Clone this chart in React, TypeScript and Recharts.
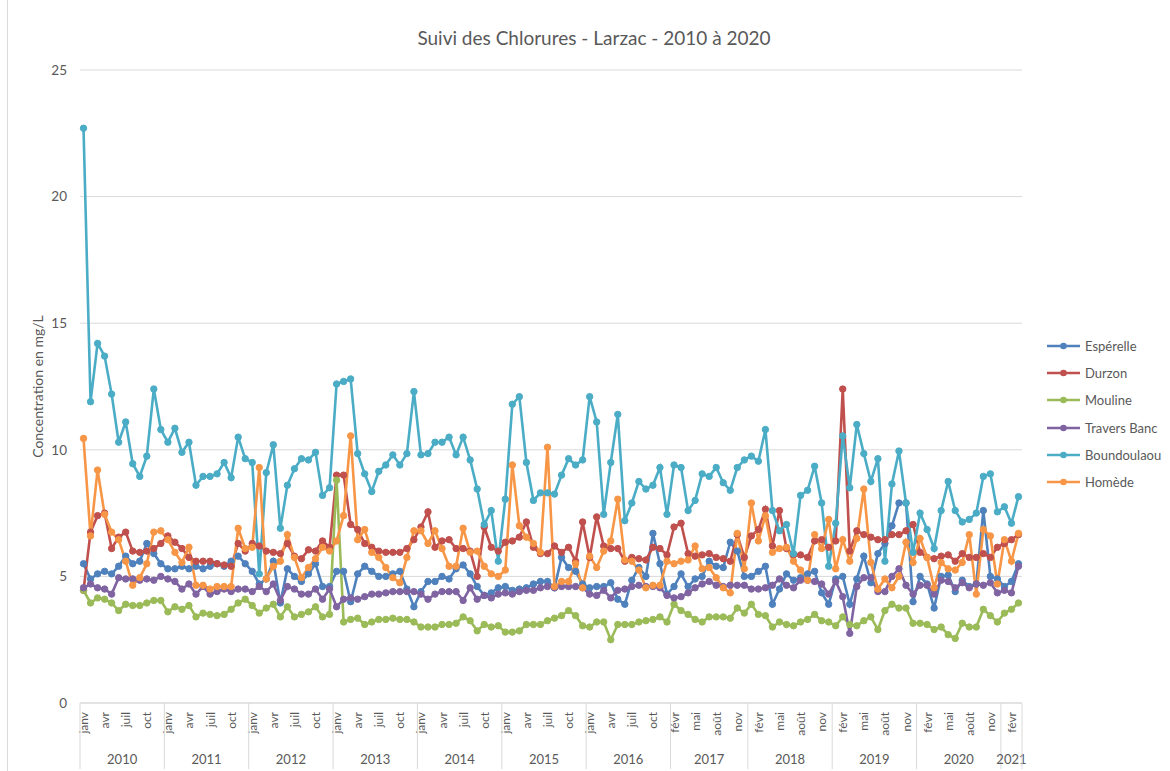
import { LineChart, Line, XAxis, YAxis, CartesianGrid, Legend } from 'recharts';

const MONTHS = ['janv', 'févr', 'mars', 'avr', 'mai', 'juin', 'juil', 'août', 'sept', 'oct', 'nov', 'déc'];

// [année, premier mois, dernier mois] (janvier 2017 absent)
const yearSpans: [number, number, number][] = [
  [2010, 0, 11], [2011, 0, 11], [2012, 0, 11], [2013, 0, 11], [2014, 0, 11], [2015, 0, 11],
  [2016, 0, 11], [2017, 1, 11], [2018, 0, 11], [2019, 0, 11], [2020, 0, 11], [2021, 0, 2],
];

const esperelle = [
  5.5, 4.9, 5.1, 5.2, 5.1, 5.4, 5.8, 5.5, 5.6, 6.3, 5.9, 5.5,
  5.3, 5.3, 5.4, 5.3, 5.4, 5.3, 5.4, 5.5, 5.4, 5.6, 5.8, 5.5,
  5.2, 4.7, 4.9, 5.6, 3.95, 5.3, 5.0, 4.8, 5.1, 5.5, 4.6, 4.6,
  5.2, 5.2, 4.0, 5.1, 5.4, 5.2, 5.0, 5.0, 5.1, 5.2, 4.5, 3.8,
  4.4, 4.8, 4.8, 5.0, 4.9, 5.3, 5.45, 5.1, 4.6, 4.25, 4.35, 4.55,
  4.6, 4.45, 4.5, 4.55, 4.7, 4.8, 4.8, 4.55, 5.75, 5.35, 5.2, 4.7,
  4.55, 4.6, 4.6, 4.75, 4.1, 3.9, 4.85, 5.35, 5.0, 6.7, 5.5, 4.3,
  4.6, 5.1, 4.6, 4.9, 5.0, 5.6, 5.4, 5.35, 6.35, 6.0, 5.0,
  5.0, 5.2, 5.4, 3.9, 4.5, 5.1, 4.85, 4.95, 5.1, 5.2, 4.35, 3.9,
  4.9, 5.0, 3.9, 4.9, 5.8, 4.75, 5.9, 6.3, 7.0, 7.9, 7.9, 4.0,
  5.0, 4.7, 3.75, 5.0, 5.05, 4.4, 4.85, 4.6, 4.7, 7.6, 5.0, 4.9,
  4.6, 4.8, 5.5,
];

const durzon = [
  4.45, 6.75, 7.4, 7.5, 6.1, 6.55, 6.75, 6.0, 5.95, 6.0, 6.1, 6.3,
  6.6, 6.35, 6.1, 5.75, 5.6, 5.6, 5.6, 5.5, 5.45, 5.4, 6.3, 6.0,
  6.3, 6.2, 6.0, 5.95, 5.9, 6.3, 5.8, 5.7, 6.05, 6.0, 6.4, 6.15,
  9.0, 9.0, 7.05, 6.85, 6.3, 6.15, 6.0, 5.95, 5.95, 5.95, 6.1, 6.45,
  6.95, 7.55, 6.15, 6.4, 6.45, 6.1, 6.1, 6.0, 5.0, 6.95, 6.15, 6.0,
  6.35, 6.4, 6.55, 7.15, 6.15, 5.9, 5.9, 6.2, 5.95, 6.15, 5.6, 7.15,
  5.75, 7.35, 6.2, 6.1, 6.1, 5.6, 5.75, 5.7, 5.65, 6.15, 6.1, 5.85,
  6.95, 7.1, 5.9, 5.8, 5.85, 5.9, 5.75, 5.7, 5.6, 6.65, 5.75,
  6.6, 6.85, 7.65, 6.2, 7.6, 6.1, 5.85, 5.85, 5.75, 6.4, 6.45, 6.15,
  6.4, 12.4, 6.0, 6.8, 6.65, 6.55, 6.45, 6.45, 6.65, 6.65, 6.8, 7.05,
  5.95, 5.75, 5.7, 5.8, 5.85, 5.6, 5.9, 5.75, 5.75, 5.9, 5.75, 6.15,
  6.3, 6.45, 6.65,
];

const mouline = [
  4.45, 3.95, 4.15, 4.1, 3.95, 3.65, 3.9, 3.85, 3.85, 3.95, 4.05, 4.05,
  3.6, 3.8, 3.7, 3.85, 3.4, 3.55, 3.5, 3.45, 3.5, 3.7, 3.95, 4.1,
  3.85, 3.55, 3.75, 3.9, 3.4, 3.8, 3.4, 3.5, 3.6, 3.8, 3.4, 3.5,
  8.8, 3.2, 3.3, 3.35, 3.1, 3.2, 3.3, 3.3, 3.35, 3.3, 3.3, 3.2,
  3.0, 3.0, 3.0, 3.1, 3.1, 3.15, 3.4, 3.25, 2.85, 3.1, 3.0, 3.05,
  2.8, 2.8, 2.85, 3.1, 3.1, 3.1, 3.25, 3.35, 3.45, 3.65, 3.45, 3.05,
  3.0, 3.2, 3.2, 2.5, 3.1, 3.1, 3.1, 3.2, 3.25, 3.3, 3.4, 3.2,
  3.9, 3.65, 3.5, 3.3, 3.2, 3.4, 3.4, 3.4, 3.35, 3.75, 3.55,
  3.9, 3.5, 3.45, 3.0, 3.2, 3.1, 3.05, 3.2, 3.3, 3.5, 3.25, 3.2,
  3.05, 3.4, 3.1, 3.05, 3.25, 3.4, 2.9, 3.65, 3.9, 3.75, 3.75, 3.15,
  3.15, 3.1, 2.9, 3.0, 2.7, 2.55, 3.15, 3.0, 3.0, 3.7, 3.45, 3.2,
  3.55, 3.7, 3.95,
];

const traversBanc = [
  4.55, 4.7, 4.55, 4.5, 4.3, 4.95, 4.9, 4.9, 4.85, 4.9, 4.85, 5.0,
  4.9, 4.8, 4.5, 4.7, 4.3, 4.6, 4.3, 4.4, 4.5, 4.4, 4.5, 4.5,
  4.4, 4.6, 4.4, 4.7, 4.05, 4.6, 4.5, 4.3, 4.3, 4.5, 4.1, 4.5,
  3.8, 4.1, 4.15, 4.1, 4.2, 4.3, 4.3, 4.35, 4.4, 4.4, 4.4, 4.4,
  4.3, 4.1, 4.3, 4.4, 4.4, 4.4, 4.05, 4.55, 4.1, 4.25, 4.15, 4.3,
  4.35, 4.3, 4.4, 4.45, 4.45, 4.55, 4.6, 4.55, 4.6, 4.6, 4.6, 4.55,
  4.3, 4.25, 4.45, 4.15, 4.45, 4.5, 4.6, 4.65, 4.6, 4.6, 4.55, 4.25,
  4.15, 4.2, 4.35, 4.55, 4.7, 4.8, 4.65, 4.6, 4.65, 4.65, 4.65,
  4.5, 4.5, 4.55, 4.65, 4.9, 4.65, 4.55, 4.85, 4.85, 4.8, 4.7, 4.3,
  4.8, 4.2, 2.75, 4.6, 4.95, 4.95, 4.4, 4.4, 5.0, 5.3, 4.65, 4.3,
  4.65, 4.65, 4.3, 4.85, 4.8, 4.55, 4.75, 4.55, 4.7, 4.65, 4.75, 4.35,
  4.45, 4.35, 5.4,
];

const boundoulaou = [
  22.7, 11.9, 14.2, 13.7, 12.2, 10.3, 11.1, 9.45, 8.95, 9.75, 12.4, 10.8,
  10.3, 10.85, 9.9, 10.3, 8.6, 8.95, 8.95, 9.05, 9.5, 8.9, 10.5, 9.65,
  9.5, 5.1, 9.1, 10.2, 6.9, 8.6, 9.25, 9.65, 9.6, 9.9, 8.2, 8.5,
  12.6, 12.7, 12.8, 9.85, 9.05, 8.35, 9.15, 9.4, 9.8, 9.4, 9.85, 12.3,
  9.8, 9.85, 10.3, 10.3, 10.5, 9.8, 10.5, 9.6, 8.45, 7.05, 7.6, 5.6,
  8.05, 11.8, 12.1, 9.5, 8.0, 8.3, 8.3, 8.25, 9.0, 9.65, 9.4, 9.6,
  12.1, 11.1, 7.45, 9.5, 11.4, 7.2, 7.9, 8.75, 8.45, 8.6, 9.3, 7.45,
  9.4, 9.3, 7.6, 8.0, 9.05, 8.95, 9.3, 8.7, 8.4, 9.3, 9.6,
  9.75, 9.55, 10.8, 7.6, 6.8, 7.05, 5.9, 8.2, 8.4, 9.35, 7.9, 5.4,
  7.1, 10.55, 8.5, 11.0, 9.85, 8.75, 9.65, 5.6, 8.65, 9.95, 7.9, 5.95,
  7.5, 6.85, 6.1, 7.6, 8.75, 7.6, 7.15, 7.25, 7.5, 8.95, 9.05, 7.55,
  7.75, 7.1, 8.15,
];

const homede = [
  10.45, 6.6, 9.2, 7.45, 6.75, 6.45, 5.6, 4.65, 4.95, 5.5, 6.75, 6.8,
  6.45, 5.95, 5.55, 6.15, 4.65, 4.65, 4.5, 4.6, 4.6, 4.6, 6.9, 6.1,
  6.15, 9.3, 4.9, 5.4, 5.6, 6.65, 5.75, 4.95, 5.35, 5.7, 6.15, 6.0,
  6.4, 7.4, 10.55, 6.45, 6.85, 5.95, 5.75, 5.35, 4.95, 4.75, 5.75, 6.8,
  6.8, 6.3, 6.8, 6.1, 5.4, 5.4, 6.9, 5.95, 6.0, 5.4, 5.1, 5.0,
  5.25, 9.4, 7.0, 6.55, 6.3, 5.95, 10.1, 4.6, 4.8, 4.8, 5.5, 4.55,
  5.8, 5.35, 6.0, 6.4, 8.05, 5.65, 5.6, 5.25, 4.55, 4.65, 4.65, 5.6,
  5.5, 5.6, 5.65, 6.2, 5.3, 5.35, 4.95, 4.55, 4.35, 6.7, 5.3,
  7.9, 6.4, 7.4, 5.95, 6.1, 6.15, 5.6, 5.25, 4.85, 6.65, 6.1, 7.25,
  5.3, 6.45, 5.6, 6.5, 8.45, 5.55, 4.5, 4.9, 4.55, 5.0, 6.35, 5.55,
  6.5, 5.75, 4.55, 5.55, 5.3, 5.25, 5.55, 6.65, 4.3, 6.85, 6.6, 4.7,
  6.45, 5.6, 6.7,
];

const yTicks = [0, 5, 10, 15, 20, 25];

const series = [
  { key: 'esperelle', name: 'Espérelle', color: '#4F81BD', values: esperelle },
  { key: 'durzon', name: 'Durzon', color: '#C0504D', values: durzon },
  { key: 'mouline', name: 'Mouline', color: '#9BBB59', values: mouline },
  { key: 'traversBanc', name: 'Travers Banc', color: '#8064A2', values: traversBanc },
  { key: 'boundoulaou', name: 'Boundoulaou', color: '#4BACC6', values: boundoulaou },
  { key: 'homede', name: 'Homède', color: '#F79646', values: homede },
];

// catégories mensuelles
const categories: { year: number; month: number; first: boolean; count: number }[] = [];
yearSpans.forEach(([year, from, to]) => {
  for (let m = from; m <= to; m++) {
    categories.push({ year, month: m, first: m === from, count: to - from + 1 });
  }
});

const data = categories.map((c, i) => {
  const row: Record<string, number | string> = { idx: i, label: `${MONTHS[c.month]} ${c.year}` };
  series.forEach((s) => { row[s.key] = s.values[i]; });
  return row;
});

const TEXT = '#595959';
const GRID = '#d9d9d9';
const FONT = 'Lato, "Open Sans", sans-serif';

function MonthTick(props: any) {
  const { x, y, payload } = props;
  const i = Number(payload.value);
  const c = categories[i];
  if (!c) return null;
  const half = payload.offset || 3.5;
  const last = i === categories.length - 1;
  return (
    <g>
      {i % 3 === 0 && (
        <text
          x={x}
          y={y + 9}
          transform={`rotate(-90 ${x} ${y + 9})`}
          textAnchor="end"
          dominantBaseline="central"
          fill={TEXT}
          fontSize={12}
          fontFamily={FONT}
        >
          {MONTHS[c.month]}
        </text>
      )}
      {c.first && <line x1={x - half} x2={x - half} y1={y} y2={y + 66} stroke={GRID} />}
      {last && <line x1={x + half} x2={x + half} y1={y} y2={y + 66} stroke={GRID} />}
      {c.first && (
        <text
          x={x - half + c.count * half}
          y={y + 56}
          textAnchor="middle"
          dominantBaseline="central"
          fill={TEXT}
          fontSize={13}
          fontWeight={400}
          fontFamily={FONT}
        >
          {c.year}
        </text>
      )}
    </g>
  );
}

function LegendBox() {
  return (
    <div style={{ fontFamily: FONT }}>
      {series.map((s) => (
        <div key={s.key} style={{ display: 'flex', alignItems: 'center', height: 27.3 }}>
          <svg width={38} height={10}>
            <line x1={0} x2={33} y1={5} y2={5} stroke={s.color} strokeWidth={2.5} />
            <circle cx={16.5} cy={5} r={3.3} fill={s.color} />
          </svg>
          <span style={{ fontSize: 13, color: TEXT }}>{s.name}</span>
        </div>
      ))}
    </div>
  );
}

export default function App() {
  return (
    <div style={{ position: 'absolute', left: 0, top: 0, width: 1170, height: 771, background: '#fff', fontFamily: FONT }}>
      <div style={{ position: 'absolute', left: 7, top: 0, width: 1, height: 771, background: GRID }} />
      <div style={{ position: 'absolute', left: 0, top: 26, width: 1188, textAlign: 'center', fontSize: 19, color: TEXT }}>
        Suivi des Chlorures - Larzac - 2010 à 2020
      </div>
      <LineChart width={1170} height={771} data={data} margin={{ top: 70, right: 148, bottom: 0, left: 0 }}>
        <CartesianGrid vertical={false} stroke={GRID} />
        <XAxis
          dataKey="idx"
          type="category"
          scale="band"
          interval={0}
          height={68}
          tick={<MonthTick />}
          tickLine={false}
          tickSize={0}
          tickMargin={0}
          axisLine={{ stroke: GRID }}
        />
        <YAxis
          domain={[0, 25]}
          ticks={yTicks}
          width={80}
          axisLine={false}
          tickLine={false}
          tickMargin={7}
          tick={{ fill: TEXT, fontSize: 13.5, fontFamily: FONT }}
          label={{
            value: 'Concentration en mg/L',
            angle: -90,
            position: 'insideLeft',
            offset: 38,
            style: { textAnchor: 'middle', fill: TEXT, fontSize: 14, fontFamily: FONT },
          }}
        />
        <Legend
          layout="horizontal"
          align="center"
          verticalAlign="middle"
          content={<LegendBox />}
          wrapperStyle={{ position: 'absolute', left: 1047, top: 332, width: 123 }}
        />
        {series.map((s) => (
          <Line
            key={s.key}
            dataKey={s.key}
            name={s.name}
            stroke={s.color}
            strokeWidth={2.6}
            dot={{ r: 3.2, fill: s.color, stroke: s.color, strokeWidth: 1 }}
            activeDot={false}
            isAnimationActive={false}
          />
        ))}
      </LineChart>
    </div>
  );
}
